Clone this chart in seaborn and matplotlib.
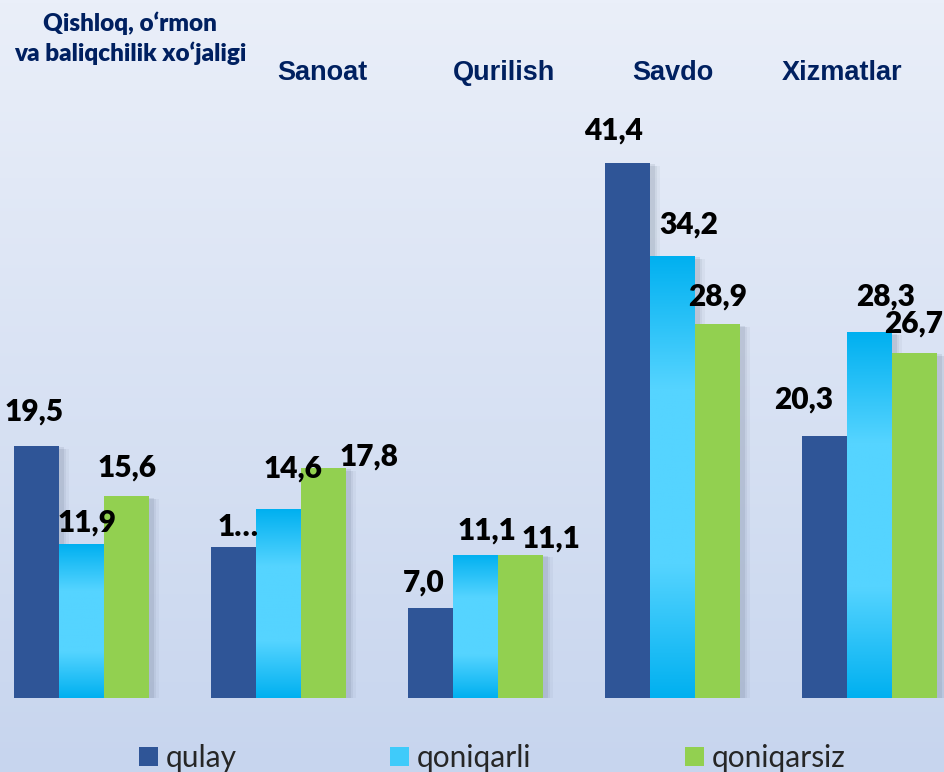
import numpy as np
import pandas as pd
import matplotlib
matplotlib.use("Agg")
import matplotlib.pyplot as plt
import matplotlib.patheffects as pe
from matplotlib.colors import LinearSegmentedColormap, to_rgb
from matplotlib.patches import Patch
import seaborn as sns

# ---- data -------------------------------------------------------------
categories = ["Qishloq, o‘rmon\nva baliqchilik xo‘jaligi", "Sanoat", "Qurilish", "Savdo", "Xizmatlar"]
series = ["qulay", "qoniqarli", "qoniqarsiz"]
qulay = [19.5, 11.7, 7.0, 41.4, 20.3]
qoniqarli = [11.9, 14.6, 11.1, 34.2, 28.3]
qoniqarsiz = [15.6, 17.8, 11.1, 28.9, 26.7]
# label shown in place of a number where the text box was too narrow
truncated_labels = {(1, 0): "1…"}

# ---- styling ----------------------------------------------------------
colors = ["#2F5597", "#1CC0F8", "#92D050"]
cyan_dark, cyan_light = "#00B0F0", "#55D4FF"
title_color = "#002060"

# pixel offsets (dx, dy) of each value label from its bar top centre
label_offsets = [
    [(-3, 34), (4, 20), (-7, 25), (-14, 32), (-21, 36)],
    [(5, 22), (14, 41), (11, 24), (16, 31), (16, 36)],
    [(0, 29), (45, 11), (30, 16), (0, 28), (-1, 29)],
]
# horizontal pixel shift of each category heading from its group centre
heading_dx = [48, 43, 28, 0, -28]

W, H, DPI = 944, 772, 100
sns.set_theme(style="white")
plt.rcParams["font.family"] = ["Lato", "DejaVu Sans"]

fig = plt.figure(figsize=(W / DPI, H / DPI), dpi=DPI)

# soft vertical background gradient
bg = fig.add_axes([0, 0, 1, 1], zorder=-10)
top_c, bot_c = np.array(to_rgb("#EAEFF9")), np.array(to_rgb("#C7D5EE"))
t = np.linspace(0, 1, 256)[:, None]
grad = (top_c[None, :] * (1 - t) + bot_c[None, :] * t)[:, None, :]
bg.imshow(grad, aspect="auto", extent=[0, 1, 0, 1], origin="upper")
bg.set_axis_off()

base_px = 698
ax = fig.add_axes([0, (H - base_px) / H, 1, base_px / H])
ax.set_facecolor("none")

df = pd.DataFrame({
    "category": np.repeat(range(len(categories)), len(series)),
    "series": series * len(categories),
    "value": np.ravel(np.column_stack([qulay, qoniqarli, qoniqarsiz])),
})
df["category"] = df["category"].map(lambda i: categories[i])
df["category"] = pd.Categorical(df["category"], categories=categories, ordered=True)

sns.barplot(data=df, x="category", y="value", hue="series", hue_order=series,
            palette=colors, width=0.685, saturation=1, linewidth=0,
            dodge=True, legend=False, ax=ax)

shadow = [
    pe.SimplePatchShadow(offset=(7, -2), shadow_rgbFace="#55627a", alpha=0.06),
    pe.SimplePatchShadow(offset=(5, -2), shadow_rgbFace="#55627a", alpha=0.08),
    pe.SimplePatchShadow(offset=(3, -1), shadow_rgbFace="#55627a", alpha=0.12),
    pe.Normal(),
]

cyan_cmap = LinearSegmentedColormap.from_list(
    "cyanbar", [(0, cyan_dark), (0.3, cyan_light), (0.7, cyan_light), (1.0, cyan_dark)])
vert = np.linspace(0, 1, 256)[:, None]

for s_idx, cont in enumerate(ax.containers):
    for c_idx, bar in enumerate(cont):
        bar.set_path_effects(shadow)
        x0, y0 = bar.get_x(), bar.get_y()
        w, h = bar.get_width(), bar.get_height()
        if s_idx == 1:
            im = ax.imshow(vert, cmap=cyan_cmap, aspect="auto",
                           extent=[x0, x0 + w, y0, y0 + h], origin="upper",
                           zorder=bar.get_zorder() + 0.5)
            im.set_clip_path(bar)
        txt = truncated_labels.get((c_idx, s_idx), f"{h:.1f}".replace(".", ","))
        dx, dy = label_offsets[s_idx][c_idx]
        ax.annotate(txt, (x0 + w / 2, y0 + h), xytext=(dx, dy),
                    textcoords="offset pixels", ha="center", va="center",
                    fontsize=21.5, fontweight="heavy", color="black", zorder=10)

ax.set_xlim(-0.416, 4.376)
ax.set_ylim(0, 54.0)
ax.set_axis_off()

# category headings across the top
for i, name in enumerate(categories):
    xd = ax.transData.transform((i, 0))[0] + heading_dx[i]
    if i == 0:
        fig.text(130 / W, 1 - 38 / H, name, ha="center", va="center",
                 fontsize=17.5, fontweight="heavy", color=title_color,
                 linespacing=1.3)
    else:
        fig.text(xd / W, 1 - 73 / H, name, ha="center", va="center",
                 fontsize=19.5, fontweight="bold", color=title_color,
                 family=["Liberation Sans", "DejaVu Sans"])

handles = [Patch(facecolor=c, edgecolor="none") for c in [colors[0], "#3FCBFA", colors[2]]]
fig.legend(handles, series, loc="center left", bbox_to_anchor=(139 / W, 1 - 758 / H),
           ncol=3, frameon=False, fontsize=21.5, handlelength=0.62, handleheight=0.62,
           handletextpad=0.27, columnspacing=5.15, borderpad=0, borderaxespad=0)

fig.savefig("out.png", dpi=DPI)
